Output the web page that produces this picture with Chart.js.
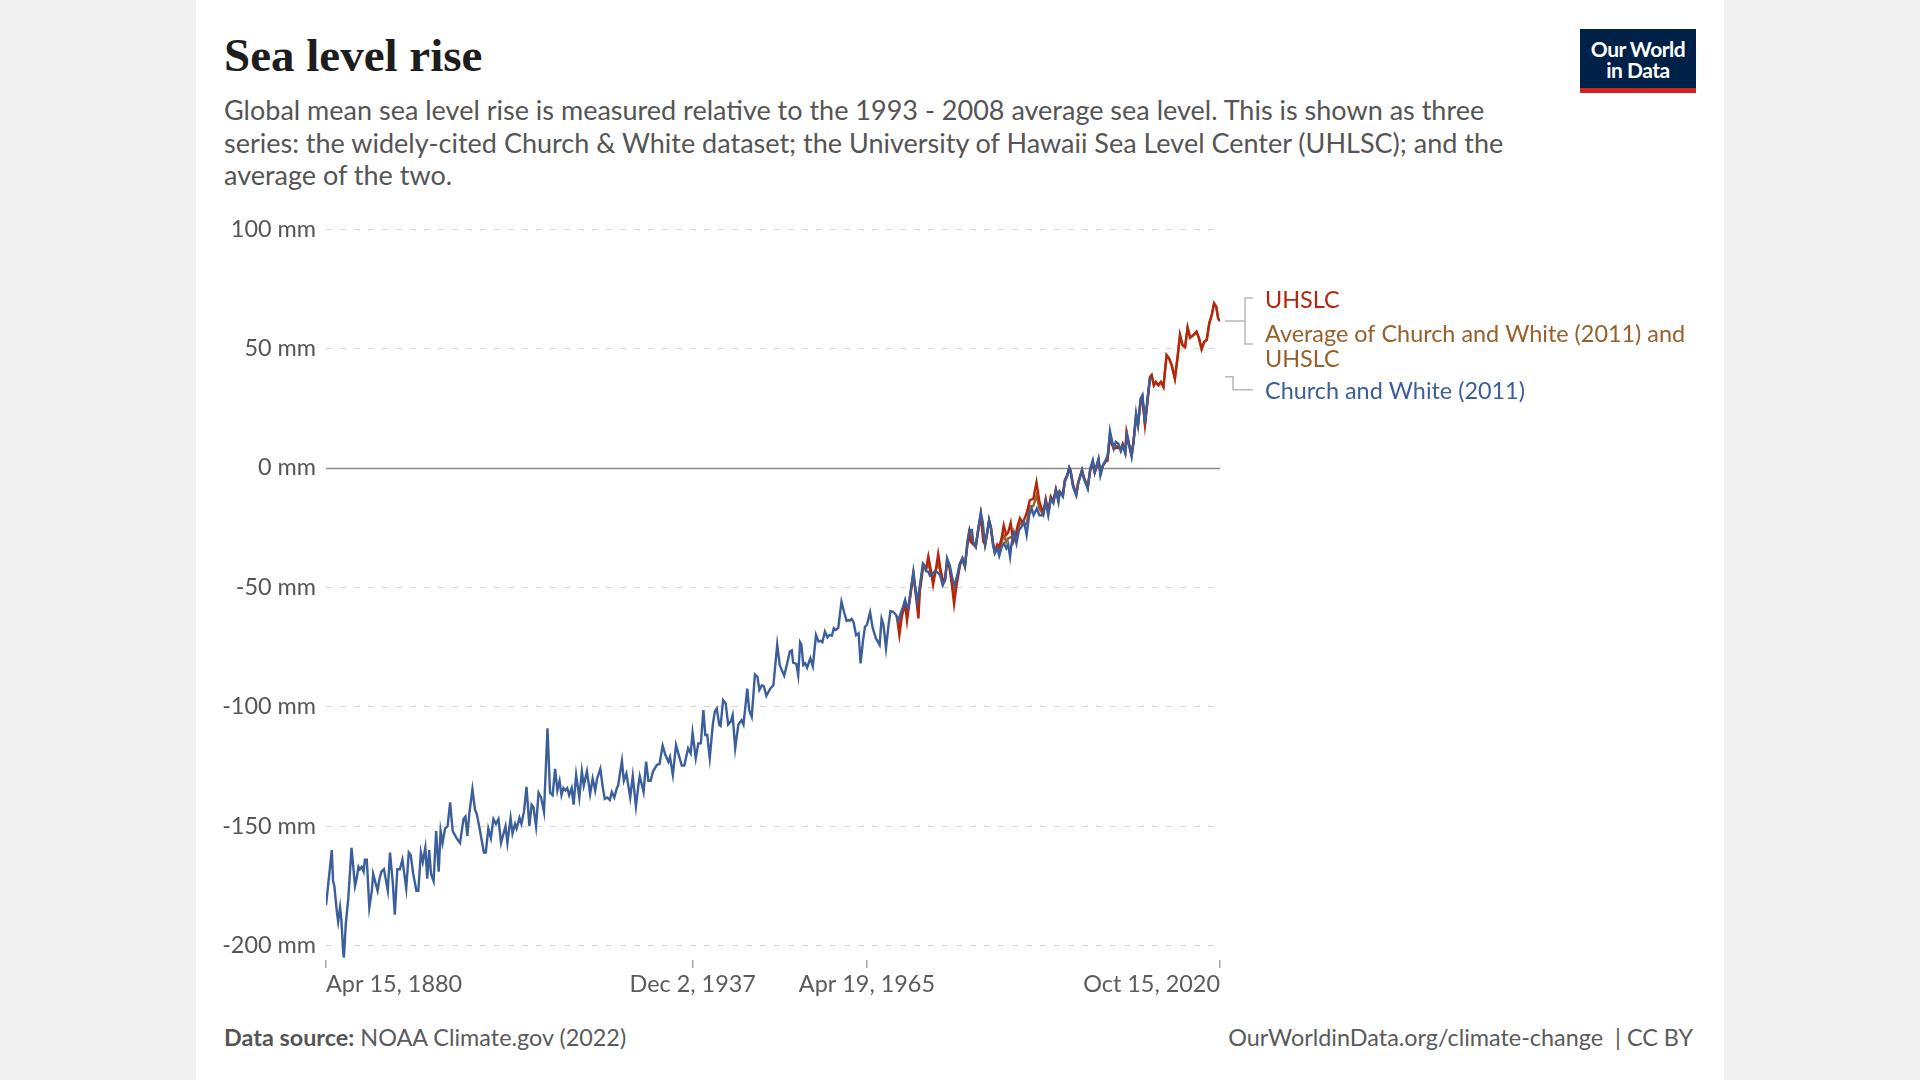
<!DOCTYPE html>
<html>
<head>
<meta charset="utf-8">
<title>Sea level rise</title>
<script src="https://cdn.jsdelivr.net/npm/chart.js@4.4.0/dist/chart.umd.min.js"></script>
<style>
  body { margin: 0; width: 1920px; height: 1080px; overflow: hidden; background: #f0f0f0; font-family: Lato, sans-serif; }
  #card { position: absolute; left: 196px; top: 0; width: 1528px; height: 1080px; background: #fff; }
  #title { position: absolute; left: 28px; top: 28px; margin: 0; font-family: "Liberation Serif", serif; font-weight: bold; font-size: 47px; color: #1d1d1d; }
  #subtitle { position: absolute; left: 28px; top: 94px; margin: 0; font-size: 27px; line-height: 32.5px; color: #555; white-space: nowrap; }
  #logo { position: absolute; left: 1384px; top: 29px; width: 116px; height: 59px; background: #002147; border-bottom: 5px solid #ce261e;
          color: #fff; font-weight: bold; font-size: 21px; line-height: 21px; text-align: center; letter-spacing: -0.5px; }
  #logo div { padding-top: 9px; }
  #chart { position: absolute; left: 4px; top: 200px; }
  .foot { position: absolute; top: 1023px; font-size: 23.4px; color: #5b5b5b; }
  #source { left: 28px; }
  #source b { color: #555; }
  #url { right: 31px; }
</style>
</head>
<body>
<div id="card">
  <h1 id="title">Sea level rise</h1>
  <p id="subtitle">Global mean sea level rise is measured relative to the 1993 - 2008 average sea level. This is shown as three<br>series: the widely-cited Church &amp; White dataset; the University of Hawaii Sea Level Center (UHLSC); and the<br>average of the two.</p>
  <div id="logo"><div>Our World<br>in Data</div></div>
  <canvas id="chart" width="1520" height="800"></canvas>
  <div class="foot" id="source"><b>Data source:</b> NOAA Climate.gov (2022)</div>
  <div class="foot" id="url">OurWorldinData.org/climate-change&nbsp; | CC BY</div>
</div>
<script>
// Church and White (2011), mm relative to 1993-2008 mean
const cwYears = [
  1880.3, 1881.2, 1881.4, 1881.6, 1882.0, 1882.2, 1882.5, 1882.7, 1883.0, 1883.1,
  1883.4, 1883.8, 1884.3, 1884.85, 1885.1, 1885.4, 1885.6, 1885.9, 1886.2, 1886.4,
  1886.7, 1887.1, 1887.5, 1887.7, 1888.0, 1888.4, 1888.7, 1889.0, 1889.4, 1889.6,
  1890.0, 1890.35, 1890.8, 1891.1, 1891.5, 1891.9, 1892.3, 1892.9, 1893.3, 1893.6,
  1894.0, 1894.5, 1894.8, 1895.2, 1895.5, 1895.9, 1896.2, 1896.5, 1896.8, 1897.2,
  1897.6, 1898.0, 1898.3, 1898.6, 1899.0, 1899.4, 1899.8, 1900.2, 1900.8, 1901.35,
  1901.9, 1902.2, 1902.5, 1902.8, 1903.3, 1903.7, 1904.0, 1904.5, 1905.1, 1905.4,
  1905.8, 1906.2, 1906.6, 1907.0, 1907.4, 1907.8, 1908.1, 1908.5, 1908.8, 1909.3,
  1909.6, 1910.0, 1910.25, 1910.7, 1911.0, 1911.4, 1911.8, 1912.25, 1912.6, 1912.9,
  1913.3, 1913.7, 1914.1, 1914.55, 1915.1, 1915.5, 1915.9, 1916.3, 1916.65, 1917.0,
  1917.3, 1917.6, 1917.9, 1918.2, 1918.5, 1918.9, 1919.2, 1919.6, 1920.0, 1920.1,
  1920.5, 1920.8, 1921.3, 1921.8, 1922.2, 1922.6, 1922.9, 1923.4, 1923.8, 1924.1,
  1924.5, 1924.9, 1925.2, 1925.6, 1926.0, 1926.2, 1926.8, 1927.1, 1927.5, 1928.1,
  1928.5, 1929.0, 1929.4, 1929.6, 1930.2, 1930.6, 1930.95, 1931.3, 1931.7, 1932.3,
  1932.7, 1933.2, 1933.6, 1934.1, 1934.35, 1934.8, 1935.3, 1935.6, 1936.2, 1936.6,
  1937.2, 1937.6, 1937.9, 1938.4, 1938.8, 1939.2, 1939.6, 1939.9, 1940.2, 1940.6,
  1941.1, 1941.4, 1941.7, 1942.1, 1942.3, 1942.7, 1943.1, 1943.5, 1943.9, 1944.2,
  1944.6, 1945.1, 1945.6, 1945.9, 1946.1, 1946.5, 1946.8, 1947.2, 1947.7, 1948.1,
  1948.4, 1948.8, 1949.1, 1949.5, 1950.1, 1950.6, 1950.85, 1951.2, 1951.6, 1952.3,
  1952.7, 1953.2, 1953.5, 1953.7, 1954.2, 1954.5, 1954.8, 1955.0, 1955.3, 1955.6,
  1955.9, 1956.4, 1956.8, 1957.3, 1957.7, 1958.0, 1958.3, 1958.7, 1959.1, 1959.4,
  1959.8, 1960.1, 1960.4, 1960.8, 1961.3, 1961.7, 1962.1, 1962.4, 1962.6, 1962.9,
  1963.2, 1963.6, 1964.0, 1964.3, 1964.7, 1965.0, 1965.3, 1965.8, 1966.2, 1966.7,
  1967.3, 1967.6, 1967.9, 1968.3, 1968.7, 1969.0, 1969.4, 1969.9, 1970.2, 1970.6,
  1971.0, 1971.3, 1971.5, 1971.8, 1972.2, 1972.6, 1972.85, 1973.2, 1973.6, 1974.1,
  1974.3, 1974.6, 1974.95, 1975.2, 1975.6, 1975.9, 1976.4, 1976.8, 1977.2, 1977.6,
  1977.9, 1978.3, 1978.8, 1979.1, 1979.5, 1979.9, 1980.3, 1980.7, 1981.1, 1981.4,
  1981.8, 1982.0, 1982.4, 1982.8, 1983.2, 1983.5, 1983.85, 1984.2, 1984.5, 1984.75,
  1985.1, 1985.4, 1985.8, 1986.1, 1986.5, 1986.85, 1987.2, 1987.5, 1987.8, 1988.0,
  1988.4, 1988.8, 1989.2, 1989.6, 1990.0, 1990.4, 1990.8, 1991.2, 1991.5, 1992.0,
  1992.4, 1993.0, 1993.4, 1993.8, 1994.2, 1994.6, 1995.0, 1995.4, 1995.6, 1996.1,
  1996.4, 1996.8, 1997.1, 1997.3, 1997.7, 1998.2, 1998.5, 1999.1, 1999.4, 2000.0,
  2000.4, 2000.8, 2001.1, 2001.7, 2002.0, 2002.4, 2002.9, 2003.2, 2003.5, 2003.8,
  2004.1, 2004.4, 2004.8, 2005.2, 2005.5, 2005.9, 2006.2, 2006.5, 2006.9, 2007.2,
  2007.6, 2007.9, 2008.3, 2008.6, 2009.0, 2009.4, 2009.8
]
const cwValues = [
  -183, -160, -173, -175, -186, -190, -184, -189, -203, -205,
  -191, -180, -159, -175, -172, -167, -168, -167, -169, -164,
  -164, -184, -177, -170, -173, -177, -172, -169, -168, -171,
  -177, -161, -174, -187, -168, -168, -164, -176, -161, -162,
  -170, -177, -177, -161, -165, -159, -172, -160, -170, -173,
  -152, -169, -152, -157, -151, -150, -140, -152, -155, -157,
  -147, -146, -154, -145, -134.5, -143, -145, -152, -161, -161,
  -151, -155, -147, -149, -147, -157, -154, -150, -157, -146.5,
  -153, -149, -151, -146.5, -149, -144, -133.5, -150, -141, -142,
  -150, -136, -138, -144, -109, -136, -137, -126, -135, -131,
  -137, -134, -135, -134, -137, -134, -141, -128.5, -136, -138,
  -127, -133, -127, -136.5, -130, -135, -130, -126, -134, -138.6,
  -138, -139, -135.7, -138, -134, -133, -122.6, -131, -128, -138,
  -129, -141.7, -132.6, -129, -135.7, -123, -131, -131, -127, -124.3,
  -124, -116.3, -120, -123, -121, -128.5, -116, -119, -124.6, -124.6,
  -117.4, -119.5, -110.8, -121.5, -115.3, -115.3, -101.4, -111.8, -111.8, -121.5,
  -107, -102, -100.7, -107.6, -108, -97.2, -98.6, -107.4, -106.2, -103.5,
  -117.4, -107.4, -105.6, -107.4, -102.4, -92.4, -101.4, -104.2, -86.5, -87.5,
  -93, -91, -91.4, -95.4, -92.4, -91, -84, -74, -82.6, -87,
  -82.6, -76.8, -76.4, -81.5, -82, -86.8, -73, -74, -82.5, -81.8,
  -83.6, -79.7, -83, -70, -72.7, -72.4, -73, -68.5, -71, -70,
  -70.2, -67.1, -67.8, -67, -56, -60.2, -64, -63.7, -64, -63.2,
  -64.6, -70, -69.2, -81.8, -72, -66.5, -65.7, -60.5, -66.9, -71.3,
  -74.1, -63.2, -65.7, -75.5, -65.7, -59.9, -60.2, -61.6, -64, -60.9,
  -58, -55.3, -57.4, -58.8, -51.1, -43.5, -49, -56, -49.7, -40,
  -40.7, -43.2, -43.5, -45.1, -44.2, -43.5, -43.7, -44.9, -49, -47,
  -37.9, -40.7, -47, -49, -44.9, -40, -37.9, -41.4, -30.9, -26,
  -26, -30.9, -33, -25.4, -18.7, -22.6, -32, -27.4, -21.9, -24.7,
  -32, -35.8, -33.7, -36.8, -33, -31.6, -33.7, -32, -37.2, -32.3,
  -27, -31.6, -26, -24.7, -22.6, -28.1, -19.8, -17, -19.8, -17,
  -19.8, -19.8, -14.3, -19.8, -12.9, -14.7, -9.4, -14.3, -10, -12,
  -5.9, -3.1, 0, -1.4, -8, -11.5, -6.6, -1, -4.5, -8.7,
  -0.3, 3.2, -1.7, 3.9, -3.1, 1.1, 3.6, 6, 15.4, 11.6,
  8.1, 10.9, 10.2, 7, 9.5, 6, 13.7, 9.5, 4.6, 10.9,
  22.8, 17.9, 29, 30.5, 18.6, 29, 38.1
]

// UHSLC and the average of the two share the same dates
const uhYears = [
  1970.0, 1970.4, 1970.8, 1971.0, 1971.3, 1971.6, 1972.0, 1972.2, 1972.6, 1972.85,
  1973.4, 1973.6, 1974.1, 1974.3, 1974.6, 1974.95, 1975.3, 1975.7, 1976.1, 1976.5,
  1976.9, 1977.3, 1977.6, 1977.9, 1978.3, 1978.7, 1979.0, 1979.4, 1979.9, 1980.3,
  1980.7, 1981.1, 1981.4, 1981.6, 1982.0, 1982.4, 1982.8, 1983.2, 1983.6, 1983.9,
  1984.2, 1984.5, 1984.8, 1985.1, 1985.4, 1985.8, 1986.1, 1986.5, 1986.8, 1987.2,
  1987.5, 1987.9, 1988.3, 1988.6, 1989.0, 1989.35, 1989.8, 1990.4, 1990.9, 1991.45,
  1991.95, 1992.4, 1993.0, 1993.4, 1993.8, 1994.2, 1994.6, 1995.0, 1995.4, 1995.6,
  1996.1, 1996.4, 1996.8, 1997.1, 1997.3, 1997.7, 1998.2, 1998.5, 1999.1, 1999.4,
  2000.0, 2000.4, 2000.8, 2001.1, 2001.7, 2002.0, 2002.4, 2002.9, 2003.1, 2003.5,
  2003.8, 2004.1, 2004.65, 2005.2, 2005.5, 2005.9, 2006.1, 2006.5, 2006.9, 2007.2,
  2007.6, 2007.9, 2008.3, 2008.6, 2009.0, 2009.4, 2009.8, 2010.05, 2010.4, 2010.7,
  2011.1, 2011.5, 2011.9, 2012.4, 2012.8, 2013.2, 2013.7, 2014.1, 2014.5, 2014.9,
  2015.3, 2015.7, 2016.1, 2016.6, 2017.1, 2017.5, 2017.9, 2018.3, 2018.7, 2019.1,
  2019.5, 2019.85, 2020.2, 2020.5, 2020.79
]
const uhValues = [
  -62, -70, -62, -60, -57, -64, -56, -52, -45, -50,
  -63, -52, -42, -41, -42, -37, -42, -49, -43, -36,
  -43, -48, -46, -39, -42, -50, -57, -49, -41, -38,
  -41, -32, -27, -31, -32, -33, -26, -20, -31, -32,
  -27, -22, -25, -31, -35, -32, -33, -29, -24, -28,
  -27, -23, -31, -29, -24, -21, -23, -19, -13.5, -13,
  -6, -14, -19, -13, -18, -12, -14, -9, -13, -10,
  -11, -5, -3, 0, -1, -7, -11, -6, -1, -4,
  -8, -1, 2, -2, 3, -2, 1, 3, 3, 13,
  10, 8, 8.5, 8, 10, 7, 15, 10, 6, 11,
  21, 18, 27, 29, 18, 28, 38, 38.8, 34.6, 36,
  34.6, 36, 33.9, 47.2, 45.8, 43, 37.4, 45.8, 55.6, 51.4,
  50.5, 58.7, 54.5, 55.6, 57, 54.2, 49.7, 52.8, 53.5, 60.5,
  64, 68.9, 67.5, 62.6, 61.5
]
const avgValues = [
  -62, -66, -61, -59, -56, -61, -55.5, -51.5, -44, -49.5,
  -58, -51, -41, -41, -42.5, -40, -43.5, -46.5, -43, -40,
  -44, -48.5, -46.5, -38.5, -41.5, -48, -52.5, -47.5, -40.5, -38,
  -41, -31.5, -26.5, -28.5, -31.5, -33, -25.7, -19.3, -28, -32,
  -27.2, -22, -25, -31.5, -35.5, -33, -35, -31, -28, -31,
  -29.5, -29, -29.5, -29, -26.5, -23, -23.5, -23.5, -16, -16,
  -11.5, -17, -19.5, -13.5, -19, -12.5, -14.4, -9.2, -13.6, -10,
  -11.5, -5.5, -3, 0, -1.2, -7.5, -11.2, -6.3, -1, -4.2,
  -8.4, -0.6, 2.6, -1.8, 3.4, -2.5, 1, 3.3, 4, 14.2,
  10.8, 8, 9.2, 7.5, 9.7, 6.5, 13.5, 9.7, 5.3, 11,
  21.9, 18, 28, 29.7, 18.3, 28.5, 38, 38.8, 34.6, 36,
  34.6, 36, 33.9, 47.2, 45.8, 43, 37.4, 45.8, 55.6, 51.4,
  50.5, 58.7, 54.5, 55.6, 57, 54.2, 49.7, 52.8, 53.5, 60.5,
  64, 68.9, 67.5, 62.6, 61.5
]

const yTickValues = [-200, -150, -100, -50, 0, 50, 100]
const xTickValues = [1880.29, 1937.92, 1965.30, 2020.79]
const xTickLabels = ['Apr 15, 1880', 'Dec 2, 1937', 'Apr 19, 1965', 'Oct 15, 2020']

const BLUE = '#3b5e9c'
const RED = '#b5260b'
const BROWN = '#98602a'
const FONT_SIZE = 23.4

const toPoints = (xs, ys) => xs.map((x, i) => ({ x, y: ys[i] }))

// solid line at 0 mm
const zeroLine = {
  id: 'zeroLine',
  beforeDatasetsDraw(chart) {
    const { ctx, chartArea, scales: { y } } = chart
    const py = Math.round(y.getPixelForValue(0)) + 0.5
    ctx.save()
    ctx.strokeStyle = '#8c8c8c'
    ctx.lineWidth = 1.5
    ctx.beginPath()
    ctx.moveTo(chartArea.left, py)
    ctx.lineTo(chartArea.right, py)
    ctx.stroke()
    ctx.restore()
  }
}

// series names at the end of the lines, with connectors
const endLabels = {
  id: 'endLabels',
  afterDatasetsDraw(chart) {
    const { ctx, chartArea, scales: { y } } = chart
    const yRed = y.getPixelForValue(uhValues[uhValues.length - 1])
    const yBlue = y.getPixelForValue(cwValues[cwValues.length - 1])
    const x0 = chartArea.right + 5
    const xText = chartArea.right + 45
    ctx.save()
    ctx.strokeStyle = '#b8b8b8'
    ctx.lineWidth = 1.5
    ctx.beginPath()
    ctx.moveTo(x0, yRed); ctx.lineTo(x0 + 20, yRed)
    ctx.moveTo(x0 + 28, yRed - 23); ctx.lineTo(x0 + 20, yRed - 23)
    ctx.lineTo(x0 + 20, yRed + 23); ctx.lineTo(x0 + 28, yRed + 23)
    ctx.moveTo(x0, yBlue); ctx.lineTo(x0 + 8, yBlue)
    ctx.lineTo(x0 + 8, yBlue + 13); ctx.lineTo(x0 + 28, yBlue + 13)
    ctx.stroke()
    ctx.font = FONT_SIZE + 'px Lato'
    ctx.textAlign = 'left'
    ctx.textBaseline = 'middle'
    ctx.fillStyle = RED
    ctx.fillText('UHSLC', xText, yRed - 21)
    ctx.fillStyle = BROWN
    ctx.fillText('Average of Church and White (2011) and', xText, yRed + 13)
    ctx.fillText('UHSLC', xText, yRed + 38)
    ctx.fillStyle = BLUE
    ctx.fillText('Church and White (2011)', xText, yBlue + 15)
    ctx.restore()
  }
}

const lineStyle = { borderWidth: 2.4, pointRadius: 0, fill: false, tension: 0 }

new Chart(document.getElementById('chart'), {
  type: 'line',
  data: {
    datasets: [
      { label: 'Church and White (2011)', data: toPoints(cwYears, cwValues), borderColor: BLUE, ...lineStyle },
      { label: 'UHSLC', data: toPoints(uhYears, uhValues), borderColor: RED, ...lineStyle },
      { label: 'Average of Church and White (2011) and UHSLC', data: toPoints(uhYears, avgValues), borderColor: BROWN, ...lineStyle }
    ]
  },
  options: {
    responsive: false,
    animation: false,
    devicePixelRatio: 1,
    layout: { padding: { top: 29, right: 500, bottom: 0, left: 0 } },
    plugins: { legend: { display: false }, tooltip: { enabled: false } },
    scales: {
      x: {
        type: 'linear',
        min: 1880.29,
        max: 2020.79,
        afterBuildTicks: axis => { axis.ticks = xTickValues.map(v => ({ value: v })) },
        afterFit: axis => { axis.height = 40 },
        border: { display: false },
        grid: { drawOnChartArea: false, drawTicks: true, tickLength: 8, color: '#a8a8a8', lineWidth: 1.5 },
        ticks: {
          autoSkip: false,
          maxRotation: 0,
          align: 'inner',
          padding: 2,
          color: '#5b5b5b',
          font: { family: 'Lato', size: FONT_SIZE },
          callback: (value, i) => xTickLabels[i]
        }
      },
      y: {
        min: -206,
        max: 100,
        afterBuildTicks: axis => { axis.ticks = yTickValues.map(v => ({ value: v })) },
        afterFit: axis => { axis.width = 126 },
        border: { display: false, dash: [6, 8] },
        grid: {
          drawTicks: false,
          lineWidth: 1,
          color: c => (c.tick && c.tick.value === 0) ? 'rgba(0,0,0,0)' : '#d6d6d6'
        },
        ticks: {
          padding: 10,
          color: '#555',
          font: { family: 'Lato', size: FONT_SIZE },
          callback: value => value + ' mm'
        }
      }
    }
  },
  plugins: [zeroLine, endLabels]
})
</script>
</body>
</html>
